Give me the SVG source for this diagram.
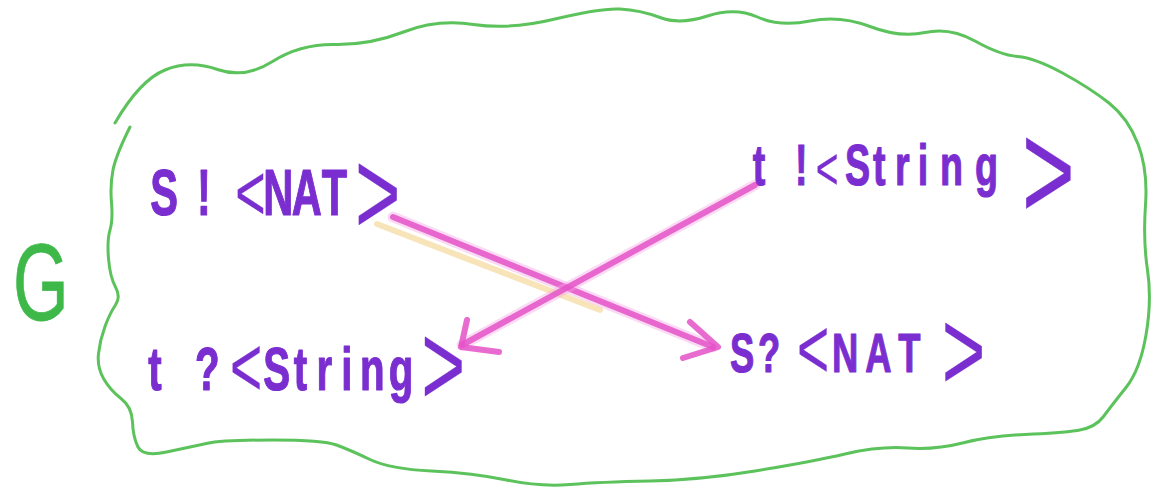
<svg xmlns="http://www.w3.org/2000/svg" width="1159" height="491" viewBox="0 0 1159 491">
  <style>
    .cloud { fill: none; stroke: #5cc25c; stroke-width: 3; stroke-linecap: round; stroke-linejoin: round; }
    .lbl { font-family: "Liberation Sans", Arial, sans-serif; font-weight: bold; fill: #7b2ed0; stroke: #7b2ed0; stroke-width: 1.2; stroke-linejoin: round; }
    .br { font-weight: normal; stroke-width: 0.3; }
    .g { font-family: "Liberation Sans", Arial, sans-serif; fill: #3fb84a; stroke: #3fb84a; stroke-width: 0.8; }
    .wire { fill: none; stroke: #e452c8; stroke-width: 6; stroke-linecap: round; stroke-linejoin: round; opacity: 0.85; }
    .halo { fill: none; stroke: #f4a4e4; stroke-width: 11; stroke-linecap: round; opacity: 0.4; }
    .yel { fill: none; stroke: #f2d48a; stroke-width: 6; stroke-linecap: round; opacity: 0.6; }
  </style>

  <g id="cloud">
    <path class="cloud" d="M115,123 Q140,80 165,70 Q190,60 217.5,69.5 Q245,79 272.5,61.5 Q300,44 335,44.5 Q370,45 403.5,32 Q437,19 473.5,24.5 Q510,30 555,19 Q600,8 620,9 Q640,10 660,17.5 Q680,25 707.5,16 Q735,7 757.5,17 Q780,27 810,21 Q840,15 870,26.5 Q900,38 925,32.5 Q950,27 975,41 Q1000,55 1017.5,56.5 Q1035,58 1062.5,73 Q1090,88 1109,103 Q1128,118 1138,144 Q1148,170 1145.5,205 Q1143,240 1147.5,270 Q1152,300 1146,335 Q1140,370 1126,387.5 Q1112,405 1103.5,416.5 Q1095,428 1077.5,430.5 Q1060,433 1025,434.5 Q990,436 962.5,443 Q935,450 907.5,448 Q880,446 845,454 Q810,462 755,471 Q700,480 650,481 Q600,482 570,484.5 Q540,487 506.5,480 Q473,473 431.5,471 Q390,469 370,459.5 Q350,450 336.5,445 Q323,440 273,440 Q223,440 206.5,443.5 Q190,447 166.5,452 Q143,457 138,447 Q133,437 132.5,422 Q132,407 121,398.5 Q110,390 103.5,378.5 Q97,367 98.5,353.5 Q100,340 105,326.5 Q110,313 115.5,305 Q121,297 115.5,287 Q110,277 108.5,258.5 Q107,240 110,230 Q113,220 111.5,202.5 Q110,185 113,170 Q116,155 130,127"/>
  </g>

  <g id="label-G">
    <text class="g" transform="scale(0.65 1)" font-size="110" x="20" y="320">G</text>
  </g>

  <g id="connectors">
    <line class="yel" x1="377" y1="224" x2="600" y2="310"/>
    <g id="edge-s">
      <line class="halo" x1="393" y1="217" x2="713" y2="347"/>
      <line class="wire" x1="393" y1="217" x2="713" y2="347"/>
      <polyline class="wire" points="690,322 718,347 683,358"/>
    </g>
    <g id="edge-t">
      <line class="halo" x1="755" y1="185" x2="462" y2="345"/>
      <line class="wire" x1="755" y1="185" x2="462" y2="345"/>
      <polyline class="wire" points="467,320 461,347 499,352"/>
    </g>
  </g>

  <g id="node-s-send">
    <text class="lbl" transform="scale(0.65 1)" font-size="64"><tspan x="231" y="215">S</tspan><tspan x="303" y="215">!</tspan><tspan class="br" x="362" y="220" font-size="80">&lt;</tspan><tspan x="405" y="215">N</tspan><tspan x="449" y="215">A</tspan><tspan x="495" y="215">T</tspan><tspan class="br" x="546" y="234" font-size="120">&gt;</tspan></text>
  </g>

  <g id="node-t-send">
    <text class="lbl" transform="scale(0.65 1)" font-size="58"><tspan x="1158" y="185">t</tspan><tspan x="1223" y="185">!</tspan><tspan class="br" x="1255" y="189" font-size="60">&lt;</tspan><tspan x="1300" y="185">S</tspan><tspan x="1343" y="185">t</tspan><tspan x="1377" y="185">r</tspan><tspan x="1412" y="185">i</tspan><tspan x="1446" y="185">n</tspan><tspan x="1500" y="185">g</tspan><tspan class="br" x="1572" y="219" font-size="140">&gt;</tspan></text>
  </g>

  <g id="node-t-recv">
    <text class="lbl" transform="scale(0.65 1)" font-size="62"><tspan x="228" y="390">t</tspan><tspan x="300" y="390">?</tspan><tspan class="br" x="354" y="396" font-size="85">&lt;</tspan><tspan x="405" y="390">S</tspan><tspan x="452" y="390">t</tspan><tspan x="487" y="390">r</tspan><tspan x="525" y="390">i</tspan><tspan x="554" y="390">n</tspan><tspan x="598" y="390">g</tspan><tspan class="br" x="648" y="405" font-size="116">&gt;</tspan></text>
  </g>

  <g id="node-s-recv">
    <text class="lbl" transform="scale(0.65 1)" font-size="56"><tspan x="1123" y="372">S</tspan><tspan x="1166" y="372">?</tspan><tspan class="br" x="1226" y="378" font-size="85">&lt;</tspan><tspan x="1280" y="372">N</tspan><tspan x="1331" y="372">A</tspan><tspan x="1382" y="372">T</tspan><tspan class="br" x="1449" y="390" font-size="115">&gt;</tspan></text>
  </g>
</svg>
